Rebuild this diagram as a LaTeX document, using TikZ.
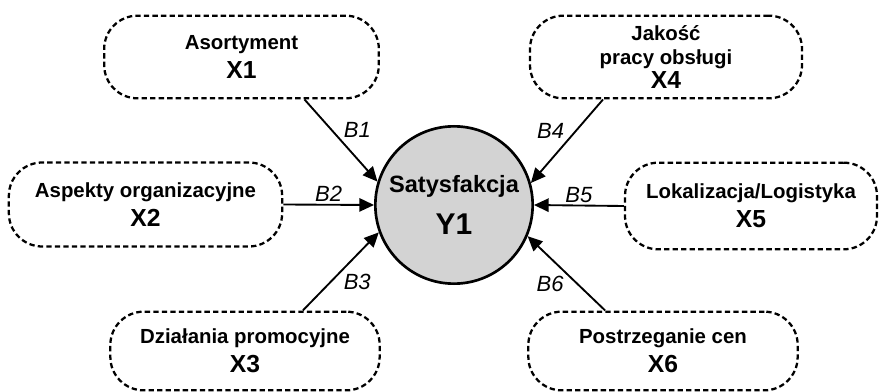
\documentclass[tikz,border=0pt]{standalone}
\usepackage{fontspec}
\setmainfont{Liberation Sans}
\usetikzlibrary{arrows.meta}
\definecolor{satgray}{RGB}{211,211,211}
\newcommand{\varname}[1]{{\fontsize{18.5}{22}\selectfont #1}}
\tikzset{factor/.style={draw,line width=1.7pt,dash pattern=on 4pt off 2.4pt,rounded corners=25pt,
    minimum width=#1,minimum height=62pt,inner sep=0pt,align=center,
    font=\fontsize{15.3}{18}\selectfont\bfseries},
  effect/.style={-{Triangle[length=11pt,width=10pt]},line width=1.4pt},
  coef/.style={font=\fontsize{16.5}{19}\selectfont\itshape,inner sep=1.5pt}}

\begin{document}
\begin{tikzpicture}[x=0.75pt,y=-0.75pt]
    \useasboundingbox (0,0) rectangle (881,392);
    % draw the explained variable in the middle
    \node[circle,draw,line width=2pt,fill=satgray,minimum size=118pt,inner sep=0pt,align=center,
      font=\fontsize{17.7}{21}\selectfont\bfseries] (sat) at (454,205)
      {Satysfakcja\\[10pt] {\fontsize{22.5}{26}\selectfont Y1}};
    % draw the factors round it
    \node[factor=206pt] (x1) at (241.5,57) {Asortyment\\[4pt] \varname{X1}};
    \node[factor=204pt] (x4) at (666,57) {Jakość\\pracy obsługi\\ \varname{X4}};
    \node[factor=205pt,minimum height=63pt] (x2) at (145.5,204.5) {Aspekty organizacyjne\\[4pt] \varname{X2}};
    \node[factor=189pt,minimum height=65pt] (x5) at (751,206) {Lokalizacja/Logistyka\\[4pt] \varname{X5}};
    \node[factor=202pt,minimum height=59pt] (x3) at (245,351) {Działania promocyjne\\[4pt] \varname{X3}};
    \node[factor=202pt,minimum height=59pt] (x6) at (663,351) {Postrzeganie cen\\[4pt] \varname{X6}};
    % draw the arrows with their coefficients
    \foreach \from/\to/\coefname/\side in {x1.-34/sat.163/B1/south west, x4.214/sat.16/B4/south east,
      x2.east/sat.west/B2/south, x5.west/sat.east/B5/south,
      x3.35/sat.200/B3/north west, x6.145/sat.-23/B6/north east}
    \draw[effect] (\from) -- (\to) node[coef,midway,anchor=\side] {\coefname};
\end{tikzpicture}
\end{document}
